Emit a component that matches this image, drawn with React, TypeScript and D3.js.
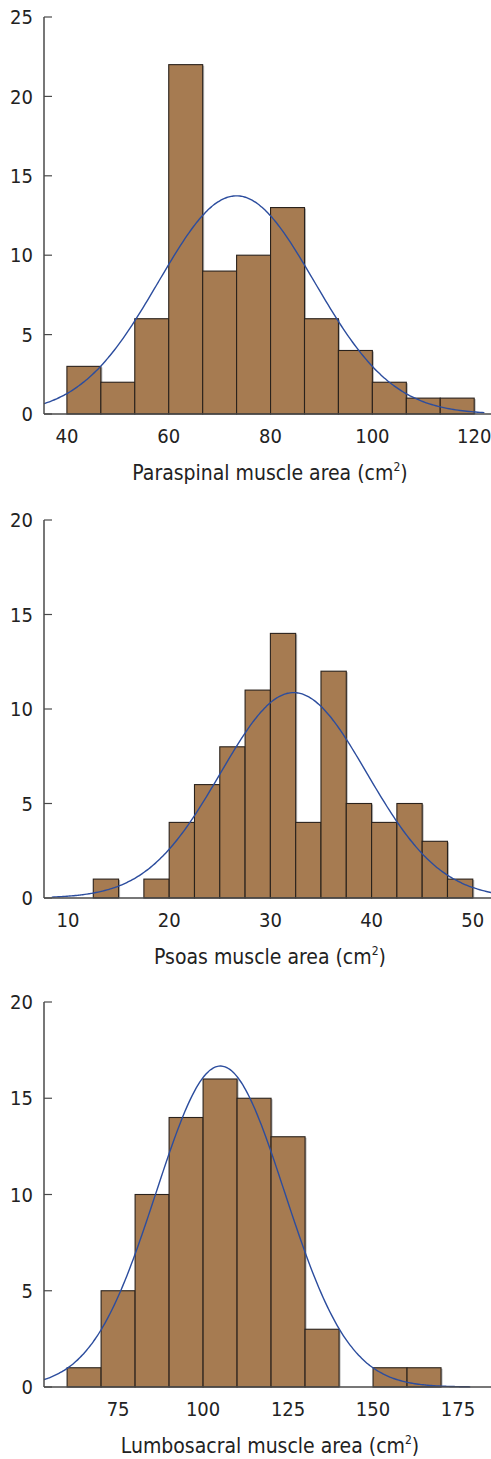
import React from "react";
import * as d3 from "d3";

// paraspinal
const paraBins = [40, 46.67, 53.33, 60, 66.67, 73.33, 80, 86.67, 93.33, 100, 106.67, 113.33, 120];
const paraCounts = [3, 2, 6, 22, 9, 10, 13, 6, 4, 2, 1, 1];
const paraTicks = [40, 60, 80, 100, 120];
const paraYTicks = [0, 5, 10, 15, 20, 25];

// psoas
const psoasBins = [12.5, 15, 17.5, 20, 22.5, 25, 27.5, 30, 32.5, 35, 37.5, 40, 42.5, 45, 47.5, 50];
const psoasCounts = [1, 0, 1, 4, 6, 8, 11, 14, 4, 12, 5, 4, 5, 3, 1];
const psoasTicks = [10, 20, 30, 40, 50];
const psoasYTicks = [0, 5, 10, 15, 20];

// lumbosacral
const lumboBins = [60, 70, 80, 90, 100, 110, 120, 130, 140, 150, 160, 170];
const lumboCounts = [1, 5, 10, 14, 16, 15, 13, 3, 0, 1, 1];
const lumboTicks = [75, 100, 125, 150, 175];
const lumboYTicks = [0, 5, 10, 15, 20];

// fitted normal curves: [mean, sd, from, to]
const paraFit = [73.3, 15.3, 35.5, 122];
const psoasFit = [32.3, 7.25, 8.4, 52];
const lumboFit = [105.1, 18.9, 53.2, 178.6];

const FONT = "'Liberation Sans Narrow', 'DejaVu Sans Condensed', 'Roboto', sans-serif";
const BAR = "#a67b51";
const CURVE = "#2c4d9e";
const AXIS = "#4a4a4a";

type HistProps = {
  top: number;
  bottom: number;
  xDomain: [number, number];
  yMax: number;
  bins: number[];
  counts: number[];
  xTicks: number[];
  yTicks: number[];
  fit: number[];
  label: string;
};

const Histogram = ({ top, bottom, xDomain, yMax, bins, counts, xTicks, yTicks, fit, label }: HistProps) => {
  const left = 44;
  const right = 491;
  const x = d3.scaleLinear().domain(xDomain).range([left, right]);
  const y = d3.scaleLinear().domain([0, yMax]).range([bottom, top]);

  const n = d3.sum(counts);
  const bw = bins[1] - bins[0];
  const [mu, sd, from, to] = fit;
  const pts = d3.range(from, to + 0.001, (to - from) / 200).map((v) => [
    v,
    (n * bw * Math.exp(-0.5 * ((v - mu) / sd) ** 2)) / (sd * Math.sqrt(2 * Math.PI)),
  ]);
  const line = d3
    .line<number[]>()
    .x((d) => x(d[0]))
    .y((d) => y(d[1]))
    .curve(d3.curveBasis);

  return (
    <g>
      {counts.map((c, i) =>
        c > 0 ? (
          <rect
            key={"s" + i}
            x={x(bins[i]) + 1.5}
            y={y(c) + 1}
            width={x(bins[i + 1]) - x(bins[i])}
            height={y(0) - y(c) - 1}
            fill="#8a8a8a"
            opacity={0.6}
          />
        ) : null
      )}
      {counts.map((c, i) =>
        c > 0 ? (
          <rect
            key={"b" + i}
            x={x(bins[i])}
            y={y(c)}
            width={x(bins[i + 1]) - x(bins[i])}
            height={y(0) - y(c)}
            fill={BAR}
            stroke="#2a221c"
            strokeWidth={1.1}
          />
        ) : null
      )}
      <path d={line(pts) || ""} fill="none" stroke={CURVE} strokeWidth={1.4} />
      <line x1={left} x2={left} y1={y(yMax)} y2={bottom} stroke={AXIS} strokeWidth={1.5} />
      <line x1={left} x2={right} y1={bottom} y2={bottom} stroke={AXIS} strokeWidth={1.5} />
      {yTicks.map((t) => (
        <g key={"y" + t}>
          <line x1={left} x2={left + 8} y1={y(t)} y2={y(t)} stroke={AXIS} strokeWidth={1.2} />
          <text
            x={33}
            y={y(t)}
            dy="0.36em"
            textAnchor="end"
            fontFamily={FONT}
            fontSize={20}
            fill="#222"
          >
            {t}
          </text>
        </g>
      ))}
      {xTicks.map((t) => (
        <text
          key={"x" + t}
          x={x(t)}
          y={bottom + 22}
          dy="0.36em"
          textAnchor="middle"
          fontFamily={FONT}
          fontSize={20}
          fill="#222"
        >
          {t}
        </text>
      ))}
      <text
        x={270}
        y={bottom + 66}
        textAnchor="middle"
        fontFamily={FONT}
        fontSize={21}
        fill="#222"
      >
        {label} (cm
        <tspan fontSize={12} dy={-9}>
          2
        </tspan>
        <tspan dy={9}>)</tspan>
      </text>
    </g>
  );
};

export default function App() {
  return (
    <svg
      width={491}
      height={1459}
      style={{ position: "absolute", left: 0, top: 0, background: "#fff" }}
    >
      <Histogram
        top={17}
        bottom={414}
        xDomain={[35.5, 123.3]}
        yMax={25}
        bins={paraBins}
        counts={paraCounts}
        xTicks={paraTicks}
        yTicks={paraYTicks}
        fit={paraFit}
        label="Paraspinal muscle area"
      />
      <Histogram
        top={520}
        bottom={898}
        xDomain={[7.63, 51.8]}
        yMax={20}
        bins={psoasBins}
        counts={psoasCounts}
        xTicks={psoasTicks}
        yTicks={psoasYTicks}
        fit={psoasFit}
        label="Psoas muscle area"
      />
      <Histogram
        top={1002}
        bottom={1387}
        xDomain={[53.2, 184.7]}
        yMax={20}
        bins={lumboBins}
        counts={lumboCounts}
        xTicks={lumboTicks}
        yTicks={lumboYTicks}
        fit={lumboFit}
        label="Lumbosacral muscle area"
      />
    </svg>
  );
}
